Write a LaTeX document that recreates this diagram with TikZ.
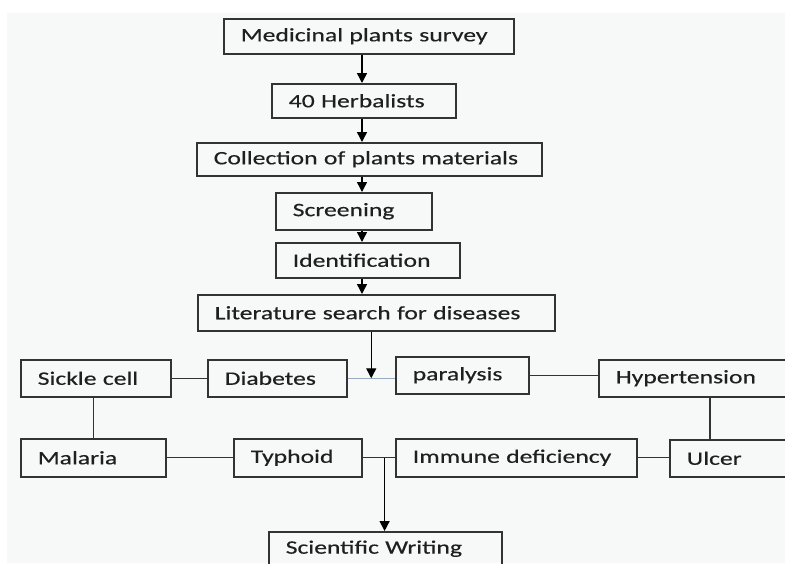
\documentclass[tikz,border=0pt]{standalone}
\usepackage{fontspec}
\setmainfont{Carlito}[FakeStretch=1.35, FakeBold=0.35]
\usetikzlibrary{arrows.meta, calc}
\definecolor{bggray}{HTML}{F7F8F8}
\definecolor{boxline}{HTML}{333333}
\definecolor{joinblue}{HTML}{8EA9DB}

\begin{document}
\begin{tikzpicture}[x=1pt, y=-1pt, every node/.style={font=\fontsize{19}{22}\selectfont, text=black!88},
    stepbox/.style={rectangle, draw=boxline, line width=1.5pt, anchor=north west, inner xsep=17pt, inner ysep=0pt, align=left},
    flow/.style={-{Triangle[width=10pt, length=10pt]}, line width=1.4pt},
    link/.style={line width=1.4pt, draw=black!80}]

    \useasboundingbox (0,0) rectangle (785,563);
    \clip (0,0) rectangle (785,563);
    \fill[bggray] (7,13) rectangle (785,563);

    \node[stepbox, text width=256pt, minimum height=35pt] (survey) at (223,18) {Medicinal plants survey};
    \node[stepbox, text width=150pt, minimum height=34pt] (herbal) at (271,83) {40 Herbalists};
    \node[stepbox, text width=311pt, minimum height=33pt] (collect) at (196,142) {Collection of plants materials};
    \node[stepbox, text width=122pt, minimum height=37pt] (screen) at (275,192) {Screening};
    \node[stepbox, text width=150pt, minimum height=35pt] (ident) at (275,242) {Identification};
    \node[stepbox, text width=323pt, minimum height=36pt] (lit) at (197,294) {Literature search for diseases};

    \node[stepbox, text width=116pt, minimum height=37pt] (sickle) at (20,359) {Sickle cell};
    \node[stepbox, text width=105pt, minimum height=37pt] (diab) at (207,359) {Diabetes};
    \node[stepbox, text width=99pt, minimum height=37pt] (para) at (395,356) {paralysis};
    \node[stepbox, text width=190pt, minimum height=37pt] (hyper) at (598,359) {Hypertension};

    \node[stepbox, text width=111pt, minimum height=38pt] (malaria) at (20,438) {Malaria};
    \node[stepbox, text width=94pt, minimum height=38pt] (typhoid) at (233,438) {Typhoid};
    \node[stepbox, text width=207pt, minimum height=38pt] (immune) at (395,438) {Immune deficiency};
    \node[stepbox, text width=96pt, minimum height=37pt] (ulcer) at (669,439) {Ulcer};

    \node[stepbox, text width=199pt, minimum height=34pt] (writing) at (268,531) {Scientific Writing};

    \coordinate (spine) at (362,0);
    \coordinate (drop) at (710,0);
    \coordinate (join) at ($(diab.east)!0.5!(diab.east -| para.west)$);
    \coordinate (fork) at ($(typhoid.east)!0.68!(immune.west)$);

    \path[link]
    (sickle.east) edge (diab.west)
    (para.east) edge (para.east -| hyper.west)
    (sickle.south -| malaria.north) edge (malaria.north)
    (hyper.south -| drop) edge (ulcer.north -| drop)
    (malaria.east) edge (typhoid.west)
    (typhoid.east) edge (immune.west)
    (immune.east) edge (immune.east -| ulcer.west);
    \draw[line width=1.4pt, joinblue] (diab.east) -- (diab.east -| para.west);

    \path[flow]
    (survey.south -| spine) edge (herbal.north -| spine)
    (herbal.south -| spine) edge (collect.north -| spine)
    (collect.south -| spine) edge (screen.north -| spine)
    (screen.south -| spine) edge (ident.north -| spine)
    (ident.south -| spine) edge (lit.north -| spine)
    (lit.south -| join) edge (join)
    (fork) edge (fork |- writing.north);
\end{tikzpicture}
\end{document}
